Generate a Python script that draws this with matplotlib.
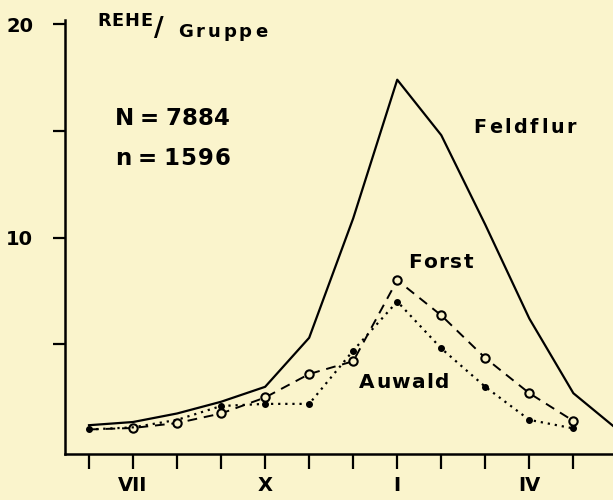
import numpy as np
import matplotlib.pyplot as plt

plt.rcParams['font.family'] = ['DejaVu Sans']

# months VI .. VI (index 0..12)
tick_pos = list(range(12))
tick_labels = ["", "VII", "", "", "X", "", "", "I", "", "", "IV", ""]

feldflur = [1.2, 1.35, 1.75, 2.3, 3.0, 5.3, 10.9, 17.4, 14.8, 10.6, 6.2, 2.7, 1.0]
forst = [1.0, 1.07, 1.3, 1.75, 2.5, 3.6, 4.2, 8.0, 6.35, 4.35, 2.7, 1.4]
auwald = [1.0, 1.1, 1.45, 2.1, 2.2, 2.2, 4.7, 7.0, 4.8, 3.0, 1.45, 1.05]

W, H = 613, 500
bg = "#faf4cc"
fig = plt.figure(figsize=(W/100, H/100), dpi=100, facecolor=bg)
ax = fig.add_axes([65/W, 46/H, 548/W, 434/H], facecolor=bg)

ax.plot(range(len(feldflur)), feldflur, color="black", lw=1.6)
ax.plot(range(len(forst)), forst, color="black", lw=1.4, ls=(0, (5, 3.5)),
        marker="o", ms=6, mfc=bg, mec="black", mew=1.5,
        markevery=list(range(1, len(forst))))
ax.plot(range(len(auwald)), auwald, color="black", lw=1.6, ls=(0, (1, 2.2)),
        marker="o", ms=4, mfc="black", mec="black",
        markevery=[0] + list(range(3, len(auwald))))

ax.set_xlim(-0.545, 11.9)
ax.set_ylim(-0.15, 20.2)

for s in ["top", "right"]:
    ax.spines[s].set_visible(False)
ax.spines["left"].set_linewidth(1.8)
ax.spines["bottom"].set_linewidth(1.8)

ax.set_xticks(tick_pos)
ax.set_xticklabels(tick_labels)
ax.set_yticks([5, 10, 15, 20])
ax.set_yticklabels(["", "10", "", "20"])
ax.tick_params(axis="x", direction="out", length=11, width=1.6,
               labelsize=14, pad=5)
ax.tick_params(axis="y", direction="out", length=9, width=1.6,
               labelsize=14, pad=14)
for lab in ax.get_xticklabels() + ax.get_yticklabels():
    lab.set_fontweight("bold")

renderer = fig.canvas.get_renderer()


def spaced(x, y, s, size, width):
    # letter-spaced text: left edge x, baseline y, total width in pixels
    parts = []
    for ch in s:
        t = fig.text(0, 0, ch, fontsize=size, fontweight="bold",
                     va="baseline", ha="left")
        w = t.get_window_extent(renderer).width if ch.strip() else size * 0.3
        parts.append((t, w))
    total = sum(w for _, w in parts)
    gap = (width - total) / max(len(s) - 1, 1)
    cx = x
    for t, w in parts:
        t.set_position((cx / W, 1 - y / H))
        cx += w + gap


spaced(97, 26, "REHE", 12.8, 55)
fig.text(154/W, 1 - 36/H, "/", fontsize=19, fontweight="bold", va="baseline")
spaced(178, 37, "Gruppe", 13, 89)
spaced(115, 125, "N = 7884", 16.5, 115)
spaced(115, 165, "n = 1596", 16.5, 115)
spaced(473, 133, "Feldflur", 13.8, 103)
spaced(408, 268, "Forst", 14.5, 65)
spaced(359, 388, "Auwald", 14.5, 90)

fig.savefig("out.png", dpi=100, facecolor=bg)
